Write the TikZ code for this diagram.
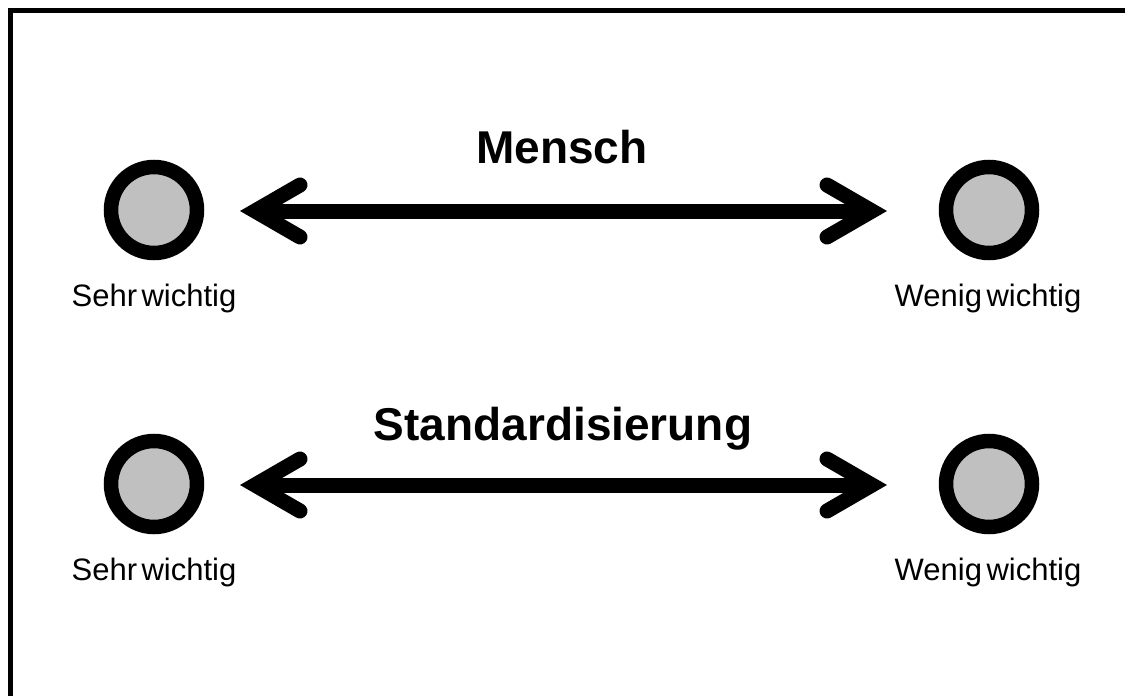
\documentclass[tikz,border=0pt]{standalone}
\usepackage{fontspec}
\setmainfont{Liberation Sans}
\definecolor{dotgrey}{RGB}{192,192,192}
\newcommand\mylabfont{\fontsize{31}{37}\selectfont\spaceskip=4.5pt\relax}
\tikzset{
  frame/.style={draw=black, line width=5pt},
  dot/.style={circle, draw=black, fill=dotgrey, line width=14.5pt, minimum size=86pt, inner sep=0pt},
  shaft/.style={draw=black, line width=15pt},
  barb/.style={draw=black, line width=15pt, line cap=round, line join=miter},
  title/.style={font=\fontsize{46}{52}\selectfont\bfseries, anchor=base, inner sep=0pt},
  label/.style={font=\mylabfont, anchor=base, inner sep=0pt},
}
\begin{document}
\begin{tikzpicture}[x=1pt,y=-1pt]
\useasboundingbox (0,0) rectangle (1125,696);
\fill[white] (0,0) rectangle (1125,696);
\draw[frame] (10.5,10.5) rectangle (1150,720);
% row 1
\node[dot] (a1) at (154,210) {};
\node[dot] (b1) at (989,210) {};
\node[title] (t1) at (562,163) {Mensch};
\node[label] (la1) at (154,306) {Sehr wichtig};
\node[label] (lb1) at (988,306) {Wenig wichtig};
\coordinate (tl1) at (255,211);
\coordinate (tr1) at (872,211);
\draw[shaft] (tl1) -- (tr1);
\draw[barb] ([shift={(45,-26)}]tl1) -- (tl1) -- ([shift={(45,26)}]tl1);
\draw[barb] ([shift={(-45,-26)}]tr1) -- (tr1) -- ([shift={(-45,26)}]tr1);
% row 2
\node[dot] (a2) at (154,484) {};
\node[dot] (b2) at (989,484) {};
\node[title] (t2) at (563,440) {Standardisierung};
\node[label] (la2) at (154,580) {Sehr wichtig};
\node[label] (lb2) at (988,580) {Wenig wichtig};
\coordinate (tl2) at (255,485);
\coordinate (tr2) at (872,485);
\draw[shaft] (tl2) -- (tr2);
\draw[barb] ([shift={(45,-26)}]tl2) -- (tl2) -- ([shift={(45,26)}]tl2);
\draw[barb] ([shift={(-45,-26)}]tr2) -- (tr2) -- ([shift={(-45,26)}]tr2);
\end{tikzpicture}
\end{document}
